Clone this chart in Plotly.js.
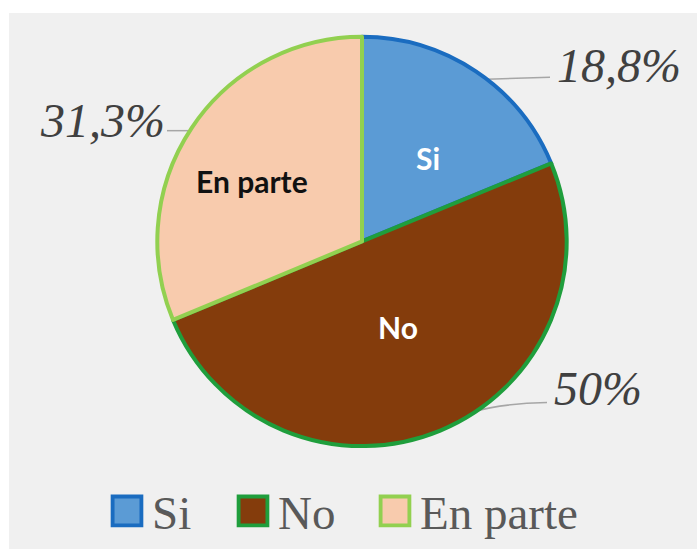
<!DOCTYPE html>
<html>
<head>
<meta charset="utf-8">
<script src="https://cdn.plot.ly/plotly-3.0.1.min.js"></script>
<style>
  html, body { margin: 0; padding: 0; background: #ffffff; width: 697px; height: 549px; overflow: hidden; }
  #chart { position: absolute; left: 9px; top: 13px; width: 688px; height: 536px; }
</style>
</head>
<body>
<div id="chart"></div>
<script>
// Data
const categories = ["Si", "No", "En parte"];
const values = [18.8, 50, 31.3];
const percentLabels = ["18,8%", "50%", "31,3%"];

// Styles
const fillColors = ["#5b9bd5", "#843c0c", "#f8cbad"];
const lineColors = ["#1a6cc0", "#1f9e3c", "#92d050"];
const insideTextColors = ["#ffffff", "#ffffff", "#111111"];

const W = 688, H = 536;
const px = x => (x - 9) / W;
const py = y => (549 - y) / H;

const trace = {
  type: "pie",
  labels: categories,
  values: values,
  sort: false,
  direction: "clockwise",
  rotation: 0,
  textinfo: "none",
  marker: { colors: fillColors, line: { color: lineColors, width: 4 } },
  domain: { x: [px(155), px(569)], y: [py(451), py(37)] },
  hoverinfo: "label+percent",
  automargin: false
};

const pctFont = { family: "'Liberation Serif', 'Times New Roman', serif", size: 48, color: "#404040", style: "italic" };
const inFont = (c) => ({ family: "Lato, 'Open Sans', sans-serif", size: 30, color: c, weight: "bold" });

// positions of the inside labels (page px)
const insidePos = [[428, 160], [398, 331], [252, 183]];
const insideAnn = categories.map((c, i) => ({
  text: c, xref: "paper", yref: "paper",
  x: px(insidePos[i][0]), y: py(insidePos[i][1]),
  xanchor: "center", yanchor: "middle", showarrow: false,
  font: inFont(insideTextColors[i])
}));

// legend text left edges (page px) as in the reference
const legendTextLeft = [152, 278, 420];

const layout = {
  width: W, height: H,
  margin: { l: 0, r: 0, t: 0, b: 0 },
  paper_bgcolor: "#f0f0f0",
  plot_bgcolor: "#f0f0f0",
  showlegend: true,
  legend: {
    orientation: "h",
    x: px(98), xanchor: "left",
    y: py(517), yanchor: "middle",
    font: { family: "'Liberation Serif', 'Times New Roman', serif", size: 47, color: "#595959" },
    traceorder: "normal",
    bgcolor: "rgba(0,0,0,0)"
  },
  annotations: [
    { text: percentLabels[0], xref: "paper", yref: "paper", x: px(555), y: py(66), xanchor: "left", yanchor: "middle", showarrow: false, font: pctFont },
    { text: percentLabels[1], xref: "paper", yref: "paper", x: px(552), y: py(393), xanchor: "left", yanchor: "middle", showarrow: false, font: pctFont },
    { text: percentLabels[2], xref: "paper", yref: "paper", x: px(167), y: py(122), xanchor: "right", yanchor: "middle", showarrow: false, font: pctFont }
  ].concat(insideAnn),
  shapes: [
    { type: "line", xref: "paper", yref: "paper", x0: px(487), y0: py(80), x1: px(550), y1: py(78), line: { color: "#a6a6a6", width: 1.5 }, layer: "below" },
    { type: "line", xref: "paper", yref: "paper", x0: px(167), y0: py(132), x1: px(188), y1: py(132), line: { color: "#a6a6a6", width: 1.5 }, layer: "below" },
    { type: "path", xref: "paper", yref: "paper",
      path: `M ${px(547)} ${py(407)} Q ${px(480)} ${py(408)} ${px(440)} ${py(429)}`,
      line: { color: "#a6a6a6", width: 1.5 }, layer: "below" }
  ]
};

Plotly.newPlot("chart", [trace], layout, { displayModeBar: false, staticPlot: true }).then(() => {
  const root = document.getElementById("chart");
  // let legend items extend freely
  root.querySelectorAll(".legend .scrollbox").forEach(s => s.removeAttribute("clip-path"));
  root.querySelectorAll(".legend [clip-path]").forEach(s => s.removeAttribute("clip-path"));
  // enlarge legend swatches to match the reference's big squares
  root.querySelectorAll(".legend .legendpoints path").forEach(p => {
    const t = p.getAttribute("transform") || "";
    p.setAttribute("transform", "translate(-5,0) " + t + " scale(2.4)");
    p.style.strokeWidth = "1.6px";
  });
  // spread entries like the reference
  root.querySelectorAll(".legend .traces").forEach((g, i) => {
    const txt = g.querySelector("text.legendtext");
    if (!txt || legendTextLeft[i] === undefined) return;
    const left = txt.getBoundingClientRect().left;
    const dx = legendTextLeft[i] - left;
    const tr = g.getAttribute("transform") || "";
    g.setAttribute("transform", `translate(${dx},0) ` + tr);
  });
});
</script>
</body>
</html>
